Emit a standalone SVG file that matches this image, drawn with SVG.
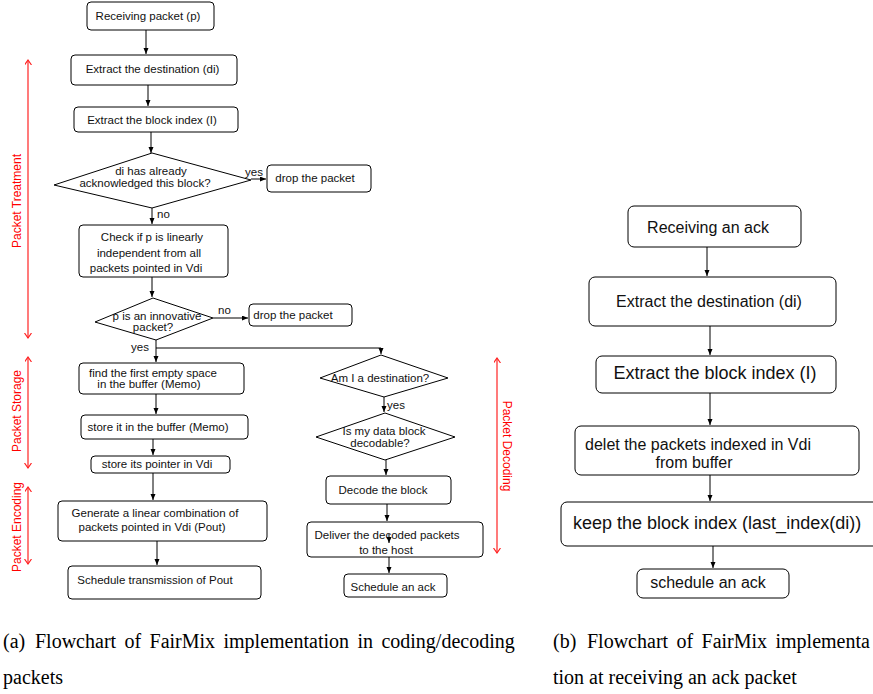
<svg xmlns="http://www.w3.org/2000/svg" width="873" height="694" viewBox="0 0 873 694">
<style>
.bx{fill:#fff;stroke:#000;stroke-width:1}
.dm{fill:#fff;stroke:#000;stroke-width:1}
.t{font-family:"Liberation Sans",Arial,sans-serif;font-size:11.5px;fill:#111;text-anchor:middle}
.tl{font-family:"Liberation Sans",Arial,sans-serif;font-size:11.5px;fill:#111}
.r16{font-family:"Liberation Sans",Arial,sans-serif;font-size:16px;fill:#111;text-anchor:middle}
.r18{font-family:"Liberation Sans",Arial,sans-serif;font-size:18px;fill:#111;text-anchor:middle}
.red{font-family:"Liberation Sans",Arial,sans-serif;font-size:12px;fill:#f00;text-anchor:middle}
.cap{font-family:"Liberation Serif","Times New Roman",serif;font-size:20px;fill:#000}
.c{fill:none;stroke:#000;stroke-width:1}
.ra{fill:none;stroke:#f22;stroke-width:1.2}
</style>
<defs>
<marker id="ah" markerUnits="userSpaceOnUse" markerWidth="7" markerHeight="6" refX="6" refY="2.5" orient="auto"><path d="M0,0 L6,2.5 L0,5 z" fill="#000"/></marker>
<marker id="rh" markerUnits="userSpaceOnUse" markerWidth="8" markerHeight="8" refX="5" refY="3.5" orient="auto-start-reverse"><path d="M0,0 L5,3.5 L0,7" fill="none" stroke="#f22" stroke-width="1.2"/></marker>
</defs>

<g id="n1"><rect class="bx" x="87" y="2" width="127" height="28" rx="4"/><text class="t" x="148" y="20">Receiving packet (p)</text></g>
<g id="n2"><rect class="bx" x="71" y="55" width="166" height="30" rx="4"/><text class="t" x="152.5" y="73">Extract the destination (di)</text></g>
<g id="n3"><rect class="bx" x="74" y="107" width="164" height="25" rx="4"/><text class="t" x="152" y="124">Extract the block index (I)</text></g>
<g id="n4"><polygon class="dm" points="152,153 251,180 152,208 54,185"/><text class="t" x="151" y="175">di has already</text><text class="t" x="145" y="187">acknowledged this block?</text></g>
<g id="n5"><rect class="bx" x="267" y="165" width="104" height="27" rx="4"/><text class="t" x="315" y="182">drop the packet</text></g>
<g id="n6"><rect class="bx" x="79" y="225" width="149" height="52" rx="4"/><text class="t" x="152" y="241">Check if p is linearly</text><text class="t" x="149" y="257">independent from all</text><text class="t" x="146" y="272">packets pointed in Vdi</text></g>
<g id="n7"><polygon class="dm" points="153,298 213,318 156,340 95,322"/><text class="t" x="157" y="320">p is an innovative</text><text class="t" x="153" y="331">packet?</text></g>
<g id="n8"><rect class="bx" x="249" y="304" width="103" height="22" rx="4"/><text class="t" x="293" y="319">drop the packet</text></g>
<g id="n9"><rect class="bx" x="79" y="363" width="165" height="31" rx="4"/><text class="t" x="153" y="377">find the first empty space</text><text class="t" x="149" y="388">in the buffer (Memo)</text></g>
<g id="n10"><rect class="bx" x="81" y="415" width="167" height="24" rx="4"/><text class="t" x="158" y="431">store it in the buffer (Memo)</text></g>
<g id="n11"><rect class="bx" x="91" y="456" width="139" height="17" rx="4"/><text class="t" x="157" y="468">store its pointer in Vdi</text></g>
<g id="n12"><rect class="bx" x="58" y="501" width="209" height="40" rx="4"/><text class="t" x="155" y="517">Generate a linear combination of</text><text class="t" x="152" y="531">packets pointed in Vdi (Pout)</text></g>
<g id="n13"><rect class="bx" x="68" y="566" width="193" height="33" rx="4"/><text class="t" x="155" y="584">Schedule transmission of Pout</text></g>
<g id="n14"><polygon class="dm" points="381,355 448,378 384,397 320,378"/><text class="t" x="380" y="382">Am I a destination?</text></g>
<g id="n15"><polygon class="dm" points="385,413 455,437 385,460 316,437"/><text class="t" x="384" y="435">Is my data block</text><text class="t" x="380" y="447">decodable?</text></g>
<g id="n16"><rect class="bx" x="326" y="476" width="125" height="28" rx="4"/><text class="t" x="383" y="494">Decode the block</text></g>
<g id="n17"><rect class="bx" x="307" y="522" width="176" height="35" rx="4"/><text class="t" x="387" y="539">Deliver the decoded packets</text><text class="t" x="386" y="554">to the host</text></g>
<g id="n18"><rect class="bx" x="344" y="574" width="103" height="23" rx="4"/><text class="t" x="393" y="591">Schedule an ack</text></g>

<g id="r1"><rect class="bx" x="628" y="206" width="173" height="41" rx="6"/><text class="r16" x="708" y="233">Receiving an ack</text></g>
<g id="r2"><rect class="bx" x="589" y="277" width="247" height="49" rx="6"/><text class="r16" x="709" y="307">Extract the destination (di)</text></g>
<g id="r3"><rect class="bx" x="596" y="356" width="240" height="37" rx="6"/><text class="r18" x="715" y="379">Extract the block index (I)</text></g>
<g id="r4"><rect class="bx" x="575" y="426" width="284" height="49" rx="6"/><text class="r16" x="698" y="450">delet the packets indexed in Vdi</text><text class="r16" x="694" y="468">from buffer</text></g>
<g id="r5"><rect class="bx" x="561" y="502" width="340" height="44" rx="6"/><text class="r18" x="573" y="529" style="text-anchor:start">keep the block index (last_index(di))</text></g>
<g id="r6"><rect class="bx" x="637" y="569" width="152" height="29" rx="6"/><text class="r16" x="708" y="588">schedule an ack</text></g>

<g id="connectors">
<line class="c" x1="146" y1="30" x2="146" y2="54" marker-end="url(#ah)"/>
<line class="c" x1="148" y1="85" x2="148" y2="106" marker-end="url(#ah)"/>
<line class="c" x1="151" y1="132" x2="151" y2="153" marker-end="url(#ah)"/>
<line class="c" x1="251" y1="179" x2="266" y2="179" marker-end="url(#ah)"/>
<line class="c" x1="152" y1="208" x2="152" y2="224" marker-end="url(#ah)"/>
<line class="c" x1="152" y1="277" x2="152" y2="297" marker-end="url(#ah)"/>
<line class="c" x1="213" y1="318" x2="248" y2="318" marker-end="url(#ah)"/>
<line class="c" x1="156" y1="340" x2="156" y2="362" marker-end="url(#ah)"/>
<polyline class="c" points="156,348 381,348 381,354" marker-end="url(#ah)"/>
<line class="c" x1="156" y1="394" x2="156" y2="414" marker-end="url(#ah)"/>
<line class="c" x1="153" y1="439" x2="153" y2="455" marker-end="url(#ah)"/>
<line class="c" x1="153" y1="473" x2="153" y2="500" marker-end="url(#ah)"/>
<line class="c" x1="157" y1="541" x2="157" y2="565" marker-end="url(#ah)"/>
<line class="c" x1="384" y1="397" x2="384" y2="412" marker-end="url(#ah)"/>
<line class="c" x1="386" y1="460" x2="386" y2="475" marker-end="url(#ah)"/>
<line class="c" x1="387" y1="504" x2="387" y2="521" marker-end="url(#ah)"/>
<line class="c" x1="389" y1="534" x2="389" y2="543" marker-end="url(#ah)"/>
<line class="c" x1="389" y1="557" x2="389" y2="573" marker-end="url(#ah)"/>
<line class="c" x1="707" y1="247" x2="707" y2="276" marker-end="url(#ah)"/>
<line class="c" x1="710" y1="326" x2="710" y2="355" marker-end="url(#ah)"/>
<line class="c" x1="710" y1="393" x2="710" y2="425" marker-end="url(#ah)"/>
<line class="c" x1="710" y1="475" x2="710" y2="501" marker-end="url(#ah)"/>
<line class="c" x1="713" y1="546" x2="713" y2="568" marker-end="url(#ah)"/>
</g>

<g id="labels">
<text class="tl" x="245" y="176">yes</text>
<text class="tl" x="157" y="218">no</text>
<text class="tl" x="218" y="314">no</text>
<text class="tl" x="149" y="351" style="text-anchor:end">yes</text>
<text class="tl" x="387" y="409">yes</text>
</g>

<g id="phases">
<line class="ra" x1="28" y1="60" x2="28" y2="338" marker-start="url(#rh)" marker-end="url(#rh)"/>
<line class="ra" x1="28" y1="357" x2="28" y2="468" marker-start="url(#rh)" marker-end="url(#rh)"/>
<line class="ra" x1="28" y1="487" x2="28" y2="564" marker-start="url(#rh)" marker-end="url(#rh)"/>
<line class="ra" x1="497" y1="358" x2="497" y2="553" marker-start="url(#rh)" marker-end="url(#rh)"/>
<text class="red" transform="translate(21,201) rotate(-90)">Packet Treatment</text>
<text class="red" transform="translate(21,411) rotate(-90)">Packet Storage</text>
<text class="red" transform="translate(21,527) rotate(-90)">Packet Encoding</text>
<text class="red" transform="translate(503,446) rotate(90)">Packet Decoding</text>
</g>

<g id="captions">
<text class="cap" x="3" y="648">(a)</text>
<text class="cap" x="35" y="648" style="word-spacing:3.4px">Flowchart of FairMix implementation in coding/decoding</text>
<text class="cap" x="3" y="684">packets</text>
<text class="cap" x="553" y="648">(b)</text>
<text class="cap" x="587" y="648" style="word-spacing:3.4px">Flowchart of FairMix implementa</text>
<text class="cap" x="553" y="684">tion at receiving an ack packet</text>
</g>
</svg>
